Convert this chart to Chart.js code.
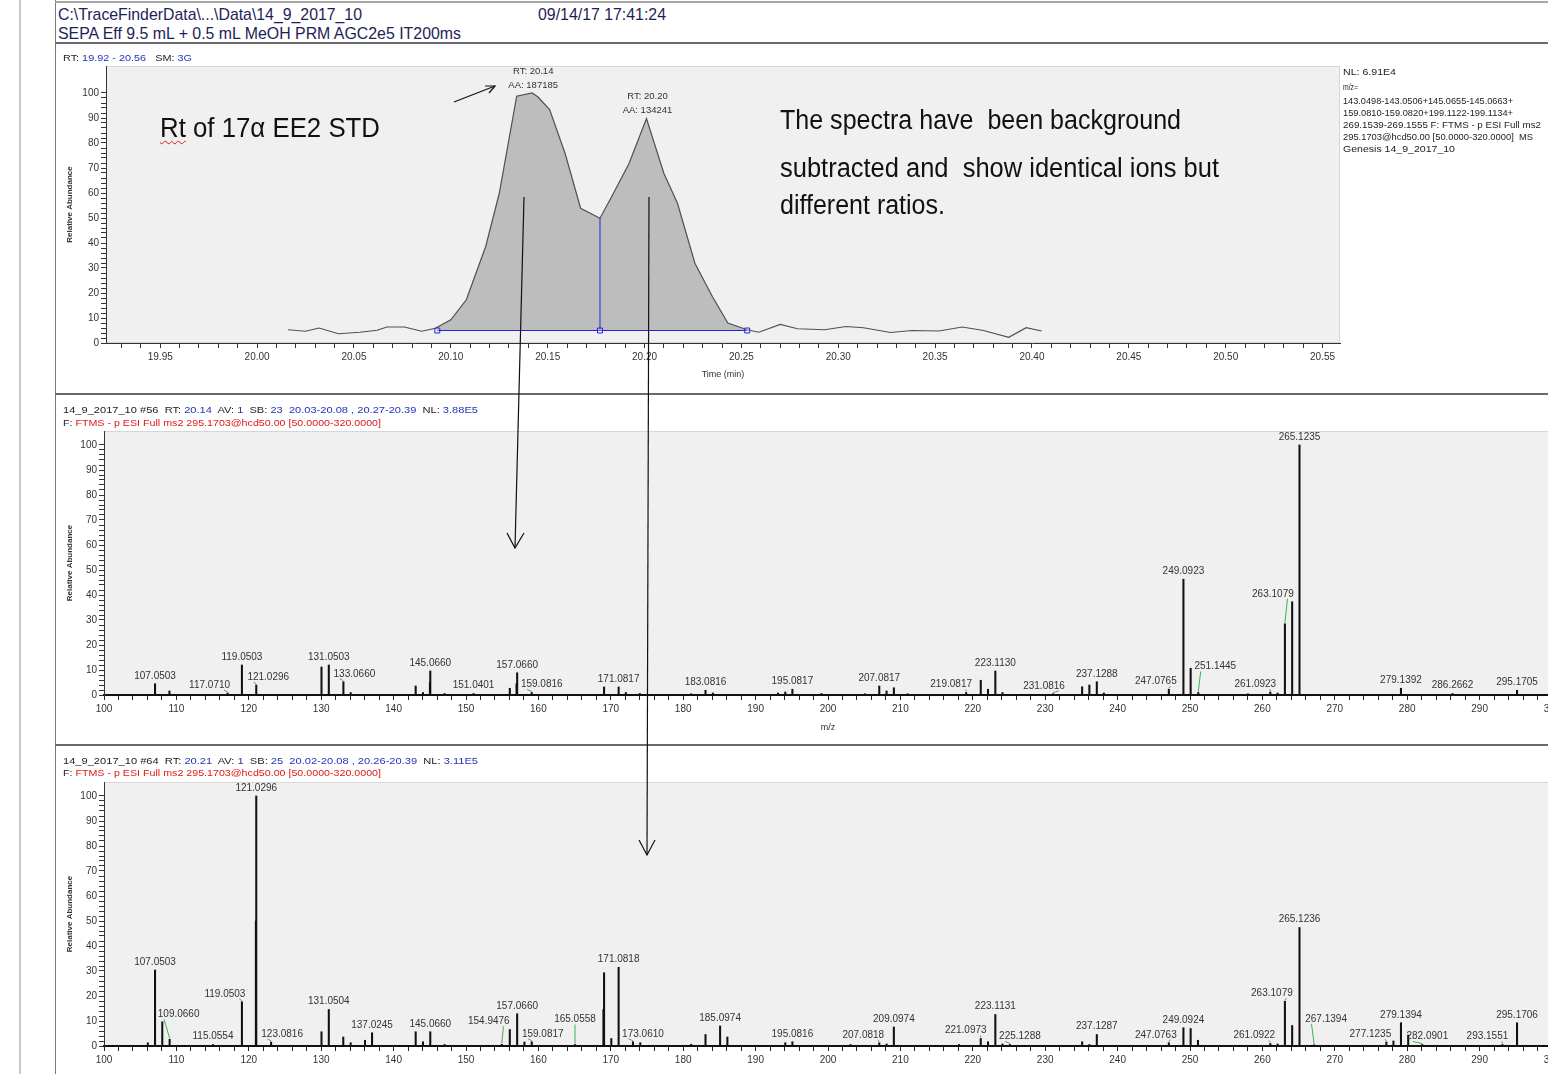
<!DOCTYPE html>
<html>
<head>
<meta charset="utf-8">
<title>TraceFinder 14_9_2017_10</title>
<script src="https://cdn.jsdelivr.net/npm/chart.js@4.4.1/dist/chart.umd.min.js"></script>
<style>
  html, body { margin: 0; padding: 0; background: #fff; }
  body { width: 1548px; height: 1074px; position: relative; overflow: hidden;
         font-family: "Liberation Sans", Arial, sans-serif; }
  .box { position: absolute; }
  .t { position: absolute; white-space: pre; transform-origin: 0 50%; z-index: 5; color: #222; }
  canvas { position: absolute; }
  .hd { color: #1e1e58; font-size: 17px; line-height: 17px; }
  .big { color: #111; font-size: 27px; line-height: 27px; }
  .sm { font-size: 9.5px; line-height: 10px; color: #222; }
  .info { font-size: 9px; line-height: 9px; color: #222; }
  .b { color: #2236b4; }
  .r { color: #e01818; }
  .wavy { text-decoration: underline wavy #d02020; text-decoration-thickness: 1px; text-underline-offset: 3px; }
</style>
</head>
<body>
<!-- window frame -->
<div class="box" style="left:19px;top:0;width:2px;height:1074px;background:#c8c8c8"></div>
<div class="box" style="left:55px;top:0;width:1px;height:1074px;background:#7a7a7a"></div>
<div class="box" style="left:55px;top:1px;width:1500px;height:2px;background:#a8a8a8"></div>
<div class="box" style="left:55px;top:42px;width:1500px;height:2px;background:#6a6a6a"></div>
<div class="box" style="left:55px;top:393px;width:1500px;height:2px;background:#6a6a6a"></div>
<div class="box" style="left:55px;top:744px;width:1500px;height:2px;background:#6a6a6a"></div>

<!-- header -->
<div class="t hd" style="left:58px;top:6px" data-w="304">C:\TraceFinderData\...\Data\14_9_2017_10</div>
<div class="t hd" style="left:58px;top:25px" data-w="403">SEPA Eff 9.5 mL + 0.5 mL MeOH PRM AGC2e5 IT200ms</div>
<div class="t hd" style="left:538px;top:6px" data-w="128">09/14/17 17:41:24</div>

<!-- chromatogram panel texts -->
<div class="t sm" style="left:63px;top:53px" data-w="129">RT: <span class="b">19.92 - 20.56</span>   SM: <span class="b">3G</span></div>
<div class="t big" style="left:160px;top:115px" data-w="220"><span class="wavy">Rt</span> of 17α EE2 STD</div>
<div class="t big" style="left:780px;top:107px" data-w="401">The spectra have  been background</div>
<div class="t big" style="left:780px;top:155px" data-w="439">subtracted and  show identical ions but</div>
<div class="t big" style="left:780px;top:192px" data-w="165">different ratios.</div>

<div class="t info" style="left:1343px;top:68px" data-w="53">NL: 6.91E4</div>
<div class="t info" style="left:1343px;top:83px" data-w="15">m/z=</div>
<div class="t info" style="left:1343px;top:97px" data-w="170">143.0498-143.0506+145.0655-145.0663+</div>
<div class="t info" style="left:1343px;top:109px" data-w="170">159.0810-159.0820+199.1122-199.1134+</div>
<div class="t info" style="left:1343px;top:121px" data-w="198">269.1539-269.1555 F: FTMS - p ESI Full ms2</div>
<div class="t info" style="left:1343px;top:133px" data-w="190">295.1703@hcd50.00 [50.0000-320.0000]  MS</div>
<div class="t info" style="left:1343px;top:145px" data-w="112">Genesis 14_9_2017_10</div>

<!-- spectrum panel texts -->
<div class="t sm" style="left:63px;top:405px" data-w="415">14_9_2017_10 #56  RT: <span class="b">20.14</span>  AV: <span class="b">1</span>  SB: <span class="b">23  20.03-20.08 , 20.27-20.39</span>  NL: <span class="b">3.88E5</span></div>
<div class="t sm" style="left:63px;top:418px" data-w="318">F: <span class="r">FTMS - p ESI Full ms2 295.1703@hcd50.00 [50.0000-320.0000]</span></div>
<div class="t sm" style="left:63px;top:756px" data-w="415">14_9_2017_10 #64  RT: <span class="b">20.21</span>  AV: <span class="b">1</span>  SB: <span class="b">25  20.02-20.08 , 20.26-20.39</span>  NL: <span class="b">3.11E5</span></div>
<div class="t sm" style="left:63px;top:768px" data-w="318">F: <span class="r">FTMS - p ESI Full ms2 295.1703@hcd50.00 [50.0000-320.0000]</span></div>

<canvas id="chrom" width="1300" height="346" style="left:56px;top:46px"></canvas>
<canvas id="ms56" width="1520" height="346" style="left:56px;top:397px"></canvas>
<canvas id="ms64" width="1520" height="326" style="left:56px;top:748px"></canvas>

<!-- hand drawn arrows -->
<svg class="box" style="left:0;top:0;z-index:6" width="1548" height="1074">
  <g stroke="#111" stroke-width="1.2" fill="none">
    <line x1="524" y1="197" x2="515" y2="548"/>
    <polyline points="507,533 515,548 524,533"/>
    <line x1="649" y1="197" x2="647" y2="855"/>
    <polyline points="639,840 647,855 655,840"/>
    <line x1="454" y1="102" x2="495" y2="86"/>
    <polyline points="485,86 495,86 489,93"/>
  </g>
</svg>

<script>
'use strict';

// chromatogram trace (RT 19.92 - 20.56)
var rtTime = [20.016, 20.025, 20.032, 20.042, 20.053, 20.062, 20.067, 20.076, 20.085, 20.092,
  20.100, 20.108, 20.118, 20.125, 20.134, 20.142, 20.145, 20.151, 20.159, 20.167,
  20.177, 20.183, 20.192, 20.201, 20.210, 20.217, 20.226, 20.235, 20.243, 20.253,
  20.259, 20.270, 20.279, 20.293, 20.304, 20.313, 20.327, 20.338, 20.352, 20.364,
  20.375, 20.388, 20.397, 20.405];
var rtAbund = [5.3, 4.7, 6.0, 3.7, 4.3, 5.1, 6.4, 6.4, 4.7, 5.9,
  9.3, 17.3, 38.6, 59.8, 98.7, 100, 98.4, 93.4, 75.8, 53.9,
  49.9, 58.5, 71.8, 89.8, 67.8, 55.9, 31.9, 18.6, 8.0, 5.3,
  4.3, 7.4, 5.7, 5.3, 6.6, 6.1, 4.2, 5.0, 4.8, 6.4,
  5.0, 2.3, 6.1, 4.8];

// integration: baseline points and split between the two peaks
var baseTime = [20.093, 20.177, 20.253];
var baseLevel = 5;
var apexRT = [20.14, 20.20];
var apexArea = ['187185', '134241'];

// scan #56, RT 20.14
var ms56Mz = [107.0503, 109.04, 117.0710, 119.0503, 121.0296, 130.04, 131.0503, 133.0660, 134.07, 143.05,
  144.06, 145.02, 145.0660, 147.04, 151.0401, 156.05, 156.98, 157.0660, 159.0816, 169.07,
  171.0817, 172.08, 174.0, 181.1, 183.0816, 184.1, 193.1, 194.1, 195.0817, 199.1,
  205.1, 207.0817, 208.09, 209.1, 211.0, 219.0817, 221.1, 222.1, 223.1130, 224.1,
  231.0816, 235.1, 236.1, 237.1288, 238.1, 247.0765, 249.0923, 250.09, 251.1445, 258.0,
  261.0923, 262.1, 263.1079, 264.11, 265.1235, 279.1392, 286.2662, 295.1705];
var ms56Abund = [4.5, 1.6, 0.8, 12, 4, 11.2, 12, 5.3, 1, 3.6,
  1, 5, 9.6, 0.6, 0.6, 2.7, 4.5, 8.9, 1, 3.2,
  3.2, 1, 0.6, 0.5, 1.9, 0.8, 0.8, 1.2, 2.3, 0.6,
  0.5, 3.6, 1.6, 2.9, 0.5, 1, 5.9, 2.3, 9.6, 1,
  0.5, 3.3, 4, 5.3, 0.8, 2.3, 46.3, 10.7, 1, 0.5,
  1.2, 0.8, 28.5, 37.3, 100, 2.7, 0.6, 1.9];
var ms56Tags = [107.0503, 117.0710, 119.0503, 121.0296, 131.0503, 133.0660, 145.0660, 151.0401, 157.0660, 159.0816,
  171.0817, 183.0816, 195.0817, 207.0817, 219.0817, 223.1130, 231.0816, 237.1288, 247.0765, 249.0923,
  251.1445, 261.0923, 263.1079, 265.1235, 279.1392, 286.2662, 295.1705];

// scan #64, RT 20.21
var ms64Mz = [106.05, 107.0503, 108.05, 109.0660, 115.0554, 119.0503, 120.98, 121.0296, 123.0816, 130.04,
  131.0504, 133.05, 134.07, 136.05, 137.0245, 143.05, 144.06, 145.0660, 147.04, 154.9476,
  156.05, 157.0660, 158.07, 159.0817, 165.0558, 168.98, 169.07, 170.07, 171.0818, 173.0610,
  174.07, 181.1, 183.08, 185.0974, 186.1, 194.1, 195.0816, 203.1, 207.0818, 208.1,
  209.0974, 218.1, 221.0973, 222.1, 223.1131, 224.1, 225.1288, 235.1, 236.1, 237.1287,
  247.0763, 249.0924, 250.09, 251.1, 261.0922, 262.1, 263.1079, 264.11, 265.1236, 267.1394,
  277.1235, 278.1, 279.1394, 280.14, 282.0901, 293.1551, 295.1706];
var ms64Abund = [1.3, 30.4, 9.7, 2.7, 0.6, 17.7, 50, 100, 1.6, 5.7,
  14.6, 3.6, 1.3, 2.3, 5.3, 5.7, 1.7, 5.7, 0.6, 0.7,
  6.6, 12.9, 1.6, 1.7, 0.6, 14.6, 29.3, 3, 31.5, 1.7,
  1.3, 0.7, 4.6, 8, 3.6, 1.3, 1.7, 0.6, 1.3, 0.8,
  7.6, 0.6, 3, 1.7, 12.6, 0.8, 0.6, 1.7, 0.6, 4.6,
  1.3, 7.3, 7, 2.3, 1, 0.8, 17.9, 8.2, 47.4, 0.5,
  1.6, 2, 9.3, 4.4, 0.6, 0.6, 9.3];
var ms64Tags = [107.0503, 109.0660, 115.0554, 119.0503, 121.0296, 123.0816, 131.0504, 137.0245, 145.0660, 154.9476,
  157.0660, 159.0817, 165.0558, 171.0818, 173.0610, 185.0974, 195.0816, 207.0818, 209.0974, 221.0973,
  223.1131, 225.1288, 237.1287, 247.0763, 249.0924, 261.0922, 263.1079, 265.1236, 267.1394, 277.1235,
  279.1394, 282.0901, 293.1551, 295.1706];

// label offsets (px) where the software moved a label away from its peak
var nudge56 = {'117.0710': [-18, 0], '121.0296': [12, 0], '133.0660': [11, 0], '159.0816': [10, 0],
  '219.0817': [-15, 0], '231.0816': [-9, 0], '247.0765': [-13, 0], '251.1445': [17, -18],
  '261.0923': [-15, 0], '263.1079': [-12, -22]};
var nudge64 = {'109.0660': [9, -17], '119.0503': [-17, 0], '123.0816': [11, 0], '154.9476': [-13, -15],
  '159.0817': [11, 0], '165.0558': [0, -17], '173.0610': [10, 0], '207.0818': [-16, 0],
  '221.0973': [-15, 0], '225.1288': [10, 0], '247.0763': [-13, 0], '261.0922': [-16, 0],
  '263.1079': [-13, 0], '267.1394': [12, -18], '277.1235': [-16, 0], '282.0901': [5, 0],
  '293.1551': [-15, 0]};

// stretch html text to the widths in the screenshot
document.querySelectorAll('[data-w]').forEach(function (el) {
  var w = el.getBoundingClientRect().width;
  el.style.transform = 'scaleX(' + (parseFloat(el.dataset.w) / w) + ')';
});

Chart.defaults.font.family = '"Liberation Sans", Arial, sans-serif';
Chart.defaults.font.size = 10;
Chart.defaults.color = '#333';
Chart.defaults.animation = false;

var plotBg = {
  id: 'plotBg',
  beforeDraw: function (chart) {
    var a = chart.chartArea, ctx = chart.ctx;
    ctx.save();
    ctx.fillStyle = '#f0f0f0';
    ctx.fillRect(a.left, a.top, a.right - a.left, a.bottom - a.top);
    ctx.strokeStyle = '#d6d6d6';
    ctx.strokeRect(a.left + 0.5, a.top + 0.5, a.right - a.left - 1, a.bottom - a.top - 1);
    ctx.restore();
  }
};

var apexLabels = {
  id: 'apexLabels',
  afterDatasetsDraw: function (chart) {
    var meta = chart.getDatasetMeta(0), ctx = chart.ctx;
    ctx.save();
    ctx.font = '9.5px "Liberation Sans", Arial, sans-serif';
    ctx.fillStyle = '#333';
    ctx.textAlign = 'center';
    ctx.textBaseline = 'middle';
    apexRT.forEach(function (rt, k) {
      var best = -1;
      rtTime.forEach(function (t, i) {
        if (Math.abs(t - rt) <= 0.006 && (best < 0 || rtAbund[i] > rtAbund[best])) best = i;
      });
      var p = meta.data[best];
      ctx.fillText('RT: ' + rt.toFixed(2), p.x + 1, p.y - 22);
      ctx.fillText('AA: ' + apexArea[k], p.x + 1, p.y - 8);
    });
    ctx.restore();
  }
};

var peakLabels = {
  id: 'peakLabels',
  afterDatasetsDraw: function (chart, args, opts) {
    var meta = chart.getDatasetMeta(0), data = chart.data.datasets[0].data, ctx = chart.ctx;
    ctx.save();
    ctx.font = '10px "Liberation Sans", Arial, sans-serif';
    ctx.textAlign = 'center';
    ctx.textBaseline = 'middle';
    meta.data.forEach(function (bar, i) {
      var mz = data[i].x;
      if (opts.tags.indexOf(mz) < 0) return;
      var txt = mz.toFixed(4);
      var n = opts.nudge[txt] || [0, 0];
      var lx = bar.x + n[0], ly = bar.y - 8 + n[1];
      if (n[0] || n[1]) {
        var w = ctx.measureText(txt).width;
        var sx = n[0] > 0 ? lx - w * 0.35 : (n[0] < 0 ? lx + w * 0.35 : lx);
        ctx.strokeStyle = '#3cb44a';
        ctx.lineWidth = 1;
        ctx.beginPath();
        ctx.moveTo(sx, ly + 5);
        ctx.lineTo(bar.x, bar.y - 1);
        ctx.stroke();
      }
      ctx.fillStyle = '#333';
      ctx.fillText(txt, lx, ly);
    });
    ctx.restore();
  }
};

function yAxis(max, width) {
  return {
    min: 0, max: max,
    afterFit: function (s) { s.width = width; },
    afterBuildTicks: function (s) { s.ticks = s.ticks.filter(function (t) { return t.value <= 100.01; }); },
    grid: {drawOnChartArea: false, tickLength: 5, color: '#333'},
    border: {color: '#333'},
    ticks: {stepSize: 2, autoSkip: false, padding: 2,
      callback: function (v) { return v % 10 === 0 ? v : ''; }},
    title: {display: true, text: 'Relative Abundance', color: '#333',
      font: {size: 8, weight: 'bold'}, padding: {top: 9, bottom: 0}}
  };
}

function mzAxis(height, withTitle) {
  return {
    type: 'linear', min: 100, max: 300, offset: false,
    afterFit: function (s) { s.height = height; },
    grid: {drawOnChartArea: false, tickLength: 5, color: '#222', offset: false},
    border: {color: '#111', width: 2},
    ticks: {stepSize: 2, autoSkip: false, maxRotation: 0, padding: 3,
      callback: function (v) { return v % 10 === 0 ? v : ''; }},
    title: {display: withTitle, text: 'm/z', font: {size: 9}, padding: {top: 0, bottom: 10}}
  };
}

function peaks(mz, ab) {
  return mz.map(function (m, i) { return {x: m, y: ab[i]}; });
}

// chromatogram
var traceAt = function (t) { return rtAbund[rtTime.indexOf(t)]; };
var peakPts = [];
rtTime.forEach(function (t, i) {
  if (t >= baseTime[0] - 0.002 && t <= baseTime[2]) peakPts.push({x: t, y: rtAbund[i]});
});

new Chart(document.getElementById('chrom'), {
  type: 'line',
  data: {
    datasets: [{
      data: rtTime.map(function (t, i) { return {x: t, y: rtAbund[i]}; }),
      borderColor: '#505050', borderWidth: 1.2, pointRadius: 0, tension: 0, fill: false, order: 1
    }, {
      data: peakPts,
      borderWidth: 0, pointRadius: 0, fill: {value: baseLevel},
      backgroundColor: '#bdbdbd', order: 3
    }, {
      data: baseTime.map(function (t) { return {x: t, y: baseLevel}; }),
      borderColor: '#2424d8', borderWidth: 1, pointStyle: 'rect', pointRadius: 3.5,
      pointBorderColor: '#2424d8', pointBackgroundColor: 'rgba(255,255,255,0.3)', fill: false, order: 0
    }, {
      data: [{x: baseTime[1], y: baseLevel}, {x: baseTime[1], y: traceAt(baseTime[1])}],
      borderColor: '#2424d8', borderWidth: 1, pointRadius: 0, fill: false, order: 0
    }]
  },
  options: {
    responsive: false, devicePixelRatio: 1,
    layout: {padding: {left: 0, top: 20, right: 16, bottom: 0}},
    plugins: {legend: {display: false}, tooltip: {enabled: false}},
    scales: {
      x: {
        type: 'linear', min: 19.922, max: 20.559,
        afterFit: function (s) { s.height = 49; },
        grid: {drawOnChartArea: false, tickLength: 5, color: '#333'},
        border: {color: '#333'},
        ticks: {stepSize: 0.01, autoSkip: false, maxRotation: 0, includeBounds: false, padding: 3,
          callback: function (v) {
            var k = v / 0.05;
            return Math.abs(k - Math.round(k)) < 1e-6 ? v.toFixed(2) : '';
          }},
        title: {display: true, text: 'Time (min)', font: {size: 9}, padding: {top: 0, bottom: 12}}
      },
      y: yAxis(110.8, 50)
    }
  },
  plugins: [plotBg, apexLabels]
});

// spectrum #56
new Chart(document.getElementById('ms56'), {
  type: 'bar',
  data: {datasets: [{data: peaks(ms56Mz, ms56Abund), backgroundColor: '#111', barThickness: 1.4}]},
  options: {
    responsive: false, devicePixelRatio: 1,
    layout: {padding: {left: 0, top: 34, right: 24, bottom: 0}},
    plugins: {legend: {display: false}, tooltip: {enabled: false},
      peakLabels: {tags: ms56Tags, nudge: nudge56}},
    scales: {x: mzAxis(48, true), y: yAxis(105.6, 48)}
  },
  plugins: [plotBg, peakLabels]
});

// spectrum #64
new Chart(document.getElementById('ms64'), {
  type: 'bar',
  data: {datasets: [{data: peaks(ms64Mz, ms64Abund), backgroundColor: '#111', barThickness: 1.4}]},
  options: {
    responsive: false, devicePixelRatio: 1,
    layout: {padding: {left: 0, top: 34, right: 24, bottom: 0}},
    plugins: {legend: {display: false}, tooltip: {enabled: false},
      peakLabels: {tags: ms64Tags, nudge: nudge64}},
    scales: {x: mzAxis(28, false), y: yAxis(105.6, 48)}
  },
  plugins: [plotBg, peakLabels]
});
</script>
</body>
</html>
